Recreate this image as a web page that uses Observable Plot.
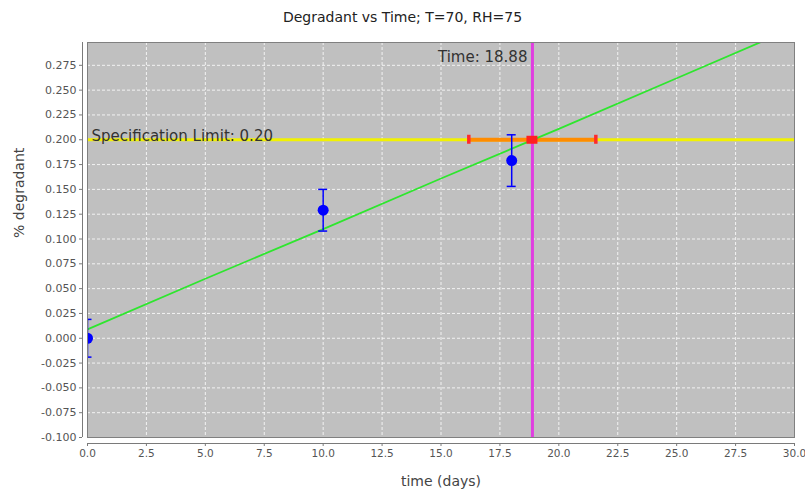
<!DOCTYPE html>
<html><head><meta charset="utf-8">
<script src="https://cdn.jsdelivr.net/npm/d3@7"></script>
<script src="https://cdn.jsdelivr.net/npm/@observablehq/plot@0.6"></script>
<style>
body{margin:0;background:#fff;font-family:"DejaVu Sans",sans-serif;}
#title{width:805px;height:30px;box-sizing:border-box;padding-top:3px;text-align:center;line-height:28px;font-size:14px;color:#222;}
#chart svg{display:block;}
</style></head><body>
<div id="title">Degradant vs Time; T=70, RH=75</div>
<div id="chart"></div>
<script>
// Measured samples (days, % degradant, error half-width)
const sampleTimes = [0, 10, 18];
const sampleValues = [0.000, 0.129, 0.179];
const sampleErrors = [0.019, 0.021, 0.026];
// Fitted trend line
const fitTimes = [0, 5, 10, 15, 20, 25, 30];
const fitValues = [0.009, 0.060, 0.110, 0.161, 0.211, 0.262, 0.313];
// Specification limit and crossing time with its interval
const specLimit = 0.20;
const crossTime = 18.88;
const crossLow = 16.18;
const crossHigh = 21.57;
// Axis ticks
const xTicks = [0, 2.5, 5, 7.5, 10, 12.5, 15, 17.5, 20, 22.5, 25, 27.5, 30];
const yTicks = [-0.1, -0.075, -0.05, -0.025, 0, 0.025, 0.05, 0.075, 0.1, 0.125, 0.15, 0.175, 0.2, 0.225, 0.25, 0.275];
const xDomain = [0, 30];
const yDomain = [-0.1, 0.298];

const samples = sampleTimes.map((t, i) => ({t, v: sampleValues[i], e: sampleErrors[i]}));
const fit = fitTimes.map((t, i) => ({t, v: fitValues[i]}));

const grid = {stroke: "#ffffff", strokeOpacity: 0.8, strokeDasharray: "3,2", strokeWidth: 1};
const axisColor = "#7a7a7a";

const chart = Plot.plot({
  width: 805,
  height: 459,
  marginLeft: 87,
  marginRight: 11,
  marginTop: 12,
  marginBottom: 52,
  style: {fontFamily: "DejaVu Sans, sans-serif", background: "#ffffff", overflow: "visible"},
  x: {domain: xDomain},
  y: {domain: yDomain},
  marks: [
    Plot.frame({fill: "#c0c0c0"}),
    Plot.gridX(xTicks, {...grid}),
    Plot.gridY(yTicks, {...grid}),
    // axes offset from the frame
    Plot.ruleX([xDomain[0]], {y1: yDomain[0], y2: yDomain[1], dx: -5, stroke: axisColor, strokeWidth: 1}),
    Plot.ruleY([yDomain[0]], {x1: xDomain[0], x2: xDomain[1], dy: 6, stroke: axisColor, strokeWidth: 1}),
    Plot.axisY({ticks: yTicks, tickFormat: d => d.toFixed(3), tickSize: 3, tickPadding: 3, dx: -5, fontSize: 11, color: "#555", stroke: axisColor, label: null}),
    Plot.axisX({ticks: xTicks, tickFormat: d => d.toFixed(1), tickSize: 3, tickPadding: 3, dy: 6, fontSize: 10.5, color: "#555", stroke: axisColor, label: null}),
    // specification limit
    Plot.ruleY([specLimit], {stroke: "#f2f200", strokeWidth: 3}),
    Plot.text([specLimit], {x: xDomain[0], y: d => d, text: d => `Specification Limit: ${d.toFixed(2)}`, textAnchor: "start", lineAnchor: "bottom", dx: 4, dy: 1, fontSize: 15, fill: "#333"}),
    // crossing interval
    Plot.ruleY([specLimit], {x1: crossLow, x2: crossHigh, stroke: "#ff8c00", strokeWidth: 4}),
    Plot.ruleX([crossLow, crossHigh], {y1: specLimit, y2: specLimit, insetTop: -4.5, insetBottom: -4.5, stroke: "#ff2a2a", strokeWidth: 3.5}),
    // fitted line
    Plot.line(fit, {x: "t", y: "v", stroke: "#2ee62e", strokeWidth: 1.8, clip: "frame"}),
    // crossing time
    Plot.ruleX([crossTime], {stroke: "#e03ee0", strokeWidth: 3}),
    Plot.ruleY([specLimit], {x1: crossTime, x2: crossTime, insetLeft: -5.5, insetRight: -5.5, stroke: "#ff2020", strokeWidth: 8}),
    Plot.text([crossTime], {x: d => d, frameAnchor: "top", text: d => `Time: ${d.toFixed(2)}`, textAnchor: "end", lineAnchor: "top", dx: -5, dy: 9, fontSize: 15, fill: "#333"}),
    // samples with error bars
    Plot.ruleX(samples, {x: "t", y1: d => d.v - d.e, y2: d => d.v + d.e, stroke: "#0000ff", strokeWidth: 1.5, clip: "frame"}),
    Plot.ruleY(samples, {y: d => d.v - d.e, x1: "t", x2: "t", insetLeft: -4.5, insetRight: -4.5, stroke: "#0000ff", strokeWidth: 1.5, clip: "frame"}),
    Plot.ruleY(samples, {y: d => d.v + d.e, x1: "t", x2: "t", insetLeft: -4.5, insetRight: -4.5, stroke: "#0000ff", strokeWidth: 1.5, clip: "frame"}),
    Plot.dot(samples, {x: "t", y: "v", r: 5.5, fill: "#0000ff", clip: "frame"}),
    Plot.frame({stroke: "#808080", strokeWidth: 1}),
    // axis titles
    Plot.text(["time (days)"], {frameAnchor: "bottom", dy: 44, fontSize: 14, fill: "#444", lineAnchor: "middle"}),
    Plot.text(["% degradant"], {frameAnchor: "left", rotate: -90, dx: -68, dy: -2, fontSize: 14, fill: "#444", lineAnchor: "middle"})
  ]
});
document.getElementById("chart").appendChild(chart);
</script>
</body></html>
